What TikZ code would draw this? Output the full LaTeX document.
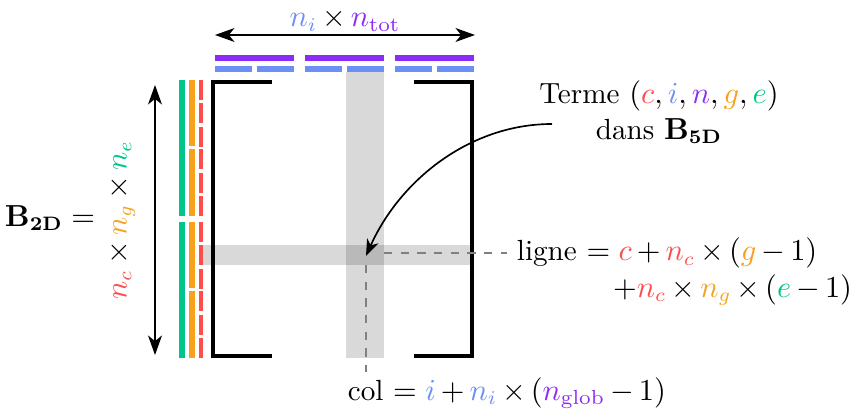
\documentclass[tikz,border=0pt]{standalone}
\usepackage{amsmath, amssymb}
\usepackage{tikz}
\usetikzlibrary{arrows.meta,calc}

\definecolor{colC}{HTML}{FF4D4D}
\definecolor{colI}{HTML}{6C8EF7}
\definecolor{colN}{HTML}{8B2BF5}
\definecolor{colG}{HTML}{F7A11F}
\definecolor{colE}{HTML}{00C58A}

\begin{document}
\begin{tikzpicture}[x=0.36pt, y=-0.36pt,
    font=\fontsize{10.5}{13}\selectfont,
    band/.style={fill=black, fill opacity=0.15},
    bracket/.style={line width=1.2pt},
    guide/.style={gray, dashed, line width=0.6pt},
    dim/.style={line width=0.7pt, {Stealth[length=7pt,width=5pt,inset=2pt]}-{Stealth[length=7pt,width=5pt,inset=2pt]}}]
    \medmuskip=3mu
    \useasboundingbox (0,0) rectangle (858,415);
    % selected row and column
    \fill[band] (346,72) rectangle (384,358);
    \fill[band] (201,245) rectangle (472,265);
    % top bars (n, i)
    \foreach \n in {0,1,2} {
        \pgfmathsetmacro\xn{215+90*\n}
        \draw[colN, line width=2.2pt] (\xn,58) -- ++(79,0);
        \foreach \i in {0,1} {
            \draw[colI, line width=2.2pt] ({\xn+41.7*\i},68.7) -- ++(37.3,0);
        }
    }
    % left bars (e, g, c)
    \foreach \e in {0,1} {
        \pgfmathsetmacro\ye{80+142*\e}
        \draw[colE, line width=2.2pt] (182.3,\ye) -- ++(0,136);
        \foreach \g in {0,1} {
            \pgfmathsetmacro\yg{\ye+69.5*\g}
            \draw[colG, line width=1.9pt] (192,\yg) -- ++(0,66.5);
            \foreach \c in {0,1,2} {
                \draw[colC, line width=1.3pt] (200.8,{\yg+23.3*\c}) -- ++(0,20);
            }
        }
    }
    % brackets
    \coordinate (LT) at (272,82); \coordinate (LB) at (272,356);
    \coordinate (RT) at (414,82); \coordinate (RB) at (414,356);
    \draw[bracket] (LT) -- (213,82) -- (213,356) -- (LB);
    \draw[bracket] (RT) -- (472,82) -- (472,356) -- (RB);
    % dimensions
    \coordinate (W1) at (215,35); \coordinate (W2) at (475,35);
    \draw[dim] (W1) -- (W2);
    \node[inner sep=0.5pt] (wlab) at (345,20) {\(\color{colI}n_i \color{black}\times \color{colN}n_{\text{tot}}\)};
    \coordinate (H1) at (155,85); \coordinate (H2) at (155,355);
    \draw[dim] (H1) -- (H2);
    \node[rotate=90] (hlab) at (122,220) {\(\color{colC}n_c \color{black}\times \color{colG}n_g \color{black}\times \color{colE}n_e\)};
    \node (B2D) at (50,218) {\(\mathbf{B}_{\mathbf{2D}} =\)};
    % term
    \node[align=center] (terme) at (659,112) {Terme \((\color{colC}c\color{black}, \color{colI}i\color{black}, \color{colN}n\color{black}, \color{colG}g\color{black}, \color{colE}e\color{black})\)\\ dans \(\mathbf{B}_{\mathbf{5D}}\)};
    \coordinate (tstart) at (552,124);
    \coordinate (cell) at (366,256);
    \draw[line width=0.6pt, -{Stealth[length=6pt,width=4.5pt,inset=1.8pt]}] (tstart) .. controls (470,124) and (400,180) .. (cell);
    % row and column formulas
    \node[anchor=west, inner sep=0.5pt] (ligne) at (515,253) {ligne \(= \color{colC}c \color{black}+ \color{colC}n_c \color{black}\times (\color{colG}g \color{black}- 1)\)};
    \node[anchor=east, inner sep=0.5pt] (ligne2) at (854,290) {\(+\color{colC}n_c \color{black}\times \color{colG}n_g \color{black}\times (\color{colE}e \color{black}- 1)\)};
    \node[anchor=west] (col) at (338,393) {col \(= \color{colI}i \color{black}+ \color{colI}n_i \color{black}\times (\color{colN}n_{\text{glob}} \color{black}- 1)\)};
    \coordinate (cellE) at (384,253);
    \coordinate (cellS) at (366,265);
    \coordinate (colTop) at (366,372);
    \draw[guide] (cellE) -- ([xshift=-3pt]ligne.west);
    \draw[guide] (cellS) -- (colTop);
\end{tikzpicture}
\end{document}
